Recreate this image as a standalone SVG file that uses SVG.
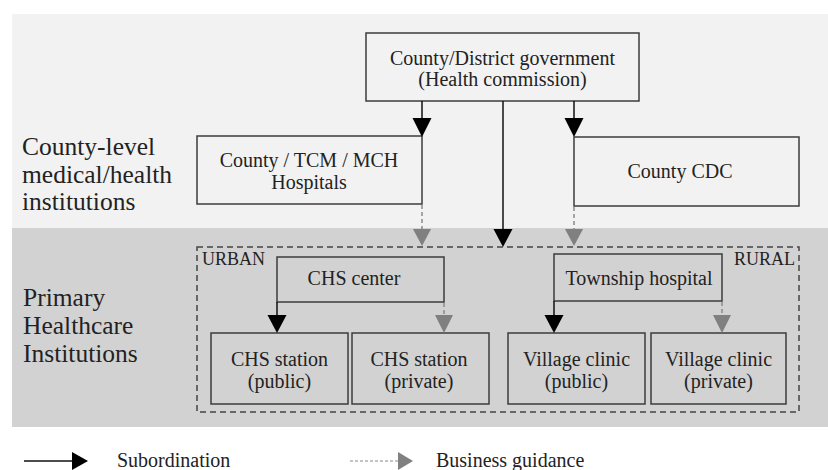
<svg xmlns="http://www.w3.org/2000/svg" width="828" height="470" viewBox="0 0 828 470">
<style>
text{fill:#222}
.t{font-size:20px;text-anchor:middle}
.lab{font-size:25.5px}
.sm{font-size:18px}
.bl{fill:#f2f2f2;stroke:#3c3c3c;stroke-width:1.5}
.bd{fill:#d2d2d2;stroke:#3c3c3c;stroke-width:1.5}
.sub{stroke:#111;stroke-width:1.5;fill:none}
.gd{stroke:#8a8a8a;stroke-width:1.5;fill:none;stroke-dasharray:4 3}
.ah{fill:#000}
.ag{fill:#808080}
</style>
<g font-family="'Liberation Serif', 'Times New Roman', Times, serif">
<rect x="12" y="14" width="816" height="214" fill="#f2f2f2"/>
<rect x="12" y="228" width="816" height="199" fill="#d2d2d2"/>
<g id="labels">
<text class="lab" x="22" y="155">County-level</text>
<text class="lab" x="22" y="183">medical/health</text>
<text class="lab" x="22" y="210">institutions</text>
<text class="lab" x="23" y="306">Primary</text>
<text class="lab" x="23" y="334">Healthcare</text>
<text class="lab" x="23" y="362">Institutions</text>
</g>
<g id="region">
<rect x="197" y="247" width="602" height="165" fill="none" stroke="#444" stroke-width="1.5" stroke-dasharray="6 4"/>
<text class="sm" x="202" y="265">URBAN</text>
<text class="sm" x="795" y="265" text-anchor="end">RURAL</text>
</g>
<g id="gov"><rect class="bl" x="366" y="33" width="273" height="68"/>
<text class="t" x="502.5" y="65">County/District government</text>
<text class="t" x="502.5" y="86">(Health commission)</text></g>
<g id="hospitals"><rect class="bl" x="197" y="136" width="225" height="68"/>
<text class="t" x="309" y="167">County / TCM / MCH</text>
<text class="t" x="309" y="189">Hospitals</text></g>
<g id="cdc"><rect class="bl" x="574" y="137" width="225" height="69"/>
<text class="t" x="680" y="178">County CDC</text></g>
<g id="chs-center"><rect class="bd" x="277" y="257" width="167" height="45"/>
<text class="t" x="354" y="285">CHS center</text></g>
<g id="township"><rect class="bd" x="554" y="254" width="168" height="47"/>
<text class="t" x="639" y="285">Township hospital</text></g>
<g id="chs-public"><rect class="bd" x="211" y="333" width="137" height="71"/>
<text class="t" x="279.5" y="366">CHS station</text>
<text class="t" x="279.5" y="388">(public)</text></g>
<g id="chs-private"><rect class="bd" x="352" y="333" width="137" height="71"/>
<text class="t" x="419" y="366">CHS station</text>
<text class="t" x="419" y="388">(private)</text></g>
<g id="village-public"><rect class="bd" x="508" y="333" width="137" height="71"/>
<text class="t" x="576.5" y="366">Village clinic</text>
<text class="t" x="576.5" y="388">(public)</text></g>
<g id="village-private"><rect class="bd" x="651" y="333" width="135" height="71"/>
<text class="t" x="718.5" y="366">Village clinic</text>
<text class="t" x="718.5" y="388">(private)</text></g>
<g id="connectors">
<line class="sub" x1="422" y1="101" x2="422" y2="120"/>
<polygon class="ah" points="412.5,118 431.5,118 422,137"/>
<line class="sub" x1="574" y1="101" x2="574" y2="120"/>
<polygon class="ah" points="564.5,118 583.5,118 574,137"/>
<line class="sub" x1="503" y1="101" x2="503" y2="230"/>
<polygon class="ah" points="493.5,229 512.5,229 503,247"/>
<line class="gd" x1="422" y1="205" x2="422" y2="229"/>
<polygon class="ag" points="413,229 431,229 422,246"/>
<line class="gd" x1="574" y1="207" x2="574" y2="229"/>
<polygon class="ag" points="565,229 583,229 574,246"/>
<line class="sub" x1="277" y1="302" x2="277" y2="316"/>
<polygon class="ah" points="267.5,315 286.5,315 277,333"/>
<line class="gd" x1="444" y1="303" x2="444" y2="315"/>
<polygon class="ag" points="435,315 453,315 444,333"/>
<line class="sub" x1="554" y1="301" x2="554" y2="316"/>
<polygon class="ah" points="544.5,315 563.5,315 554,333"/>
<line class="gd" x1="722" y1="302" x2="722" y2="315"/>
<polygon class="ag" points="713,315 731,315 722,333"/>
</g>
<g id="legend">
<line class="sub" x1="24" y1="461" x2="74" y2="461" stroke-width="2"/>
<polygon class="ah" points="72,452 88,461 72,470"/>
<text x="117" y="467" font-size="20">Subordination</text>
<line x1="350" y1="461" x2="399" y2="461" stroke="#8a8a8a" stroke-width="1.2" stroke-dasharray="3 2"/>
<polygon class="ag" points="398,452 413,461 398,470"/>
<text x="436" y="467" font-size="20">Business guidance</text>
</g>
</g>
</svg>
